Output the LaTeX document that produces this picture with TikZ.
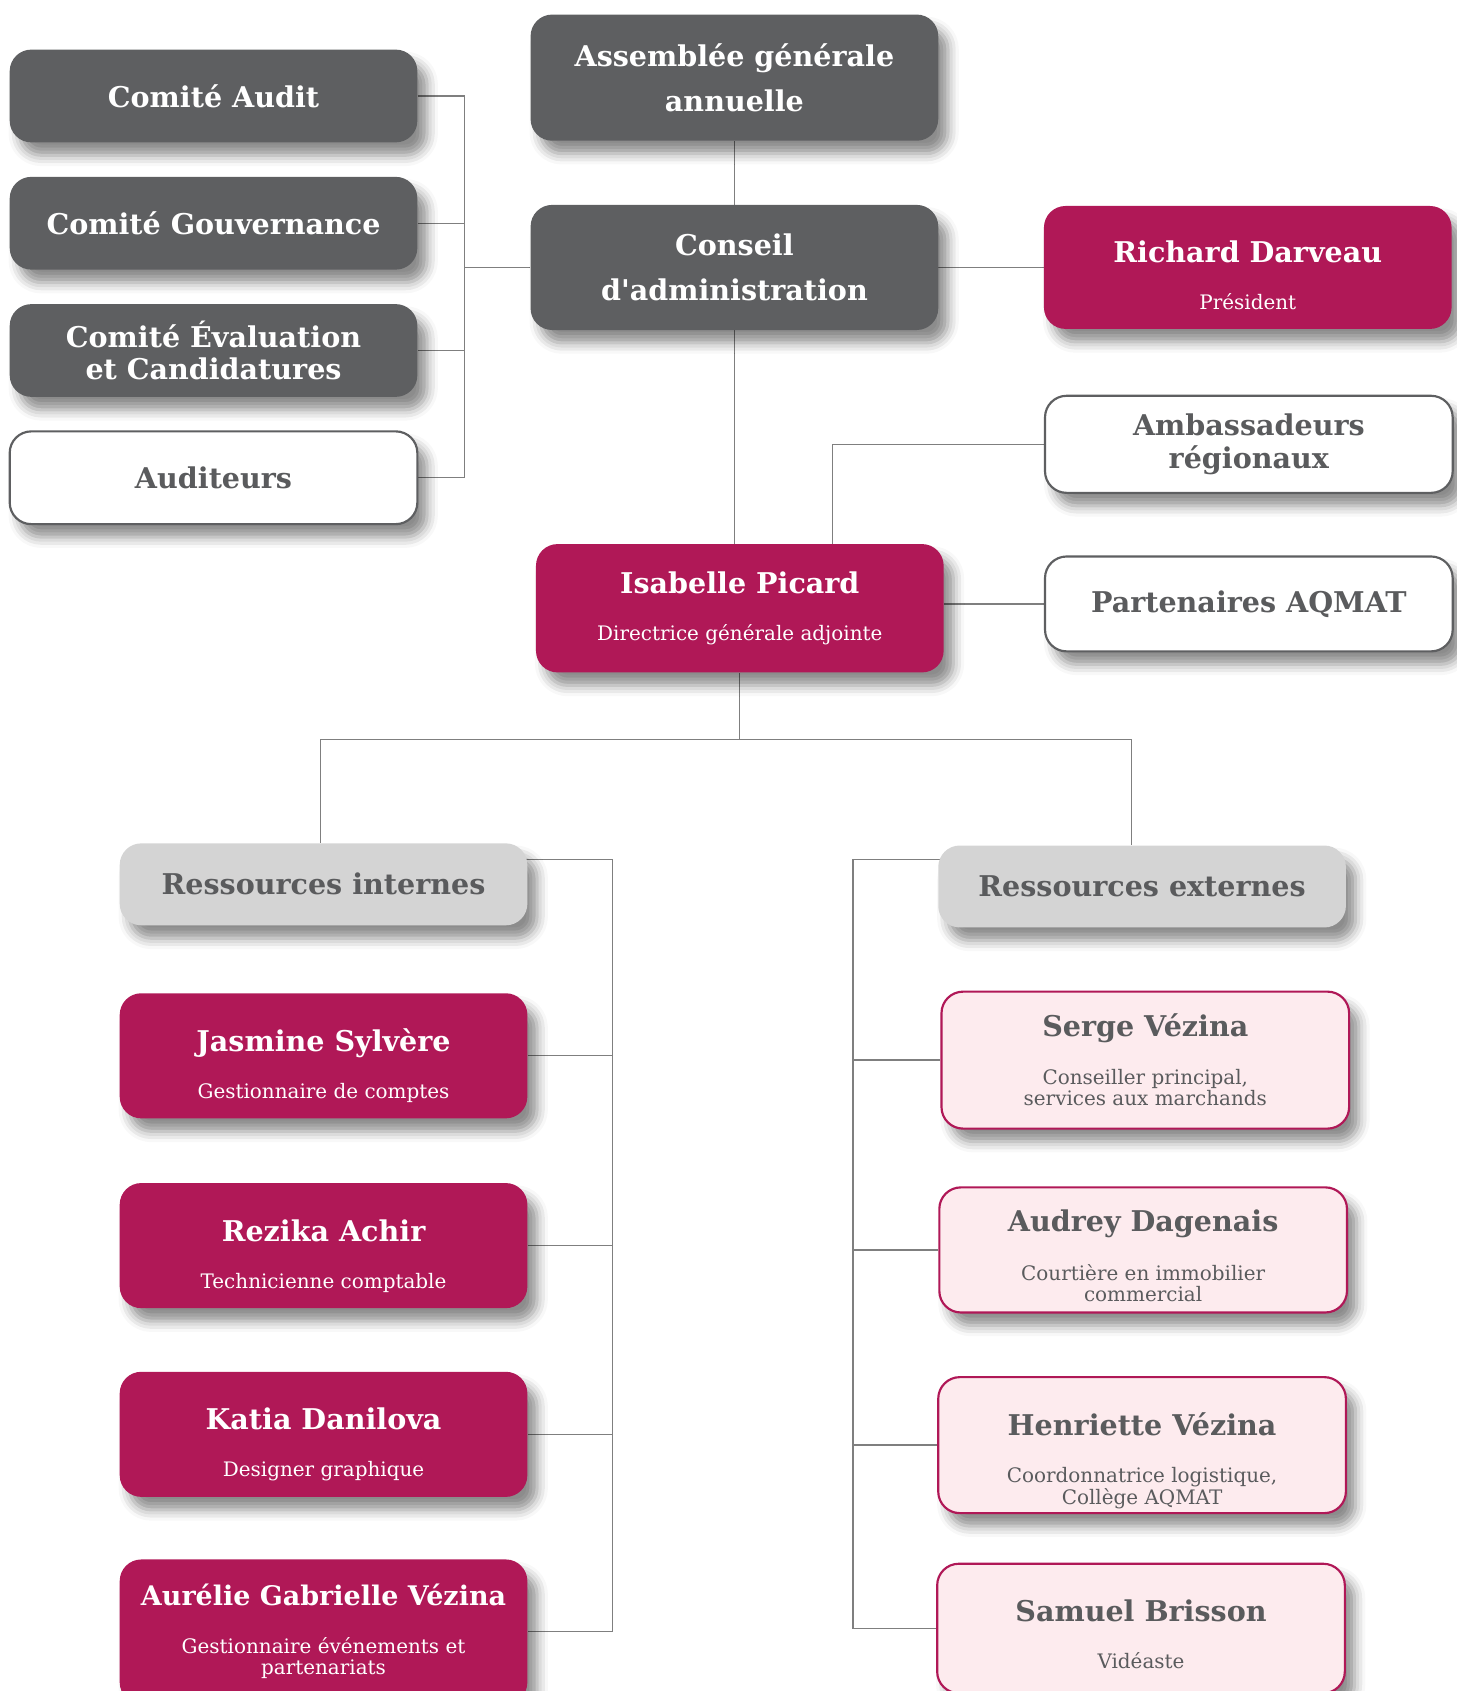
\documentclass[tikz,border=0pt]{standalone}
\usepackage{fontspec}
\setmainfont{DejaVu Serif}
\usetikzlibrary{positioning,shadows.blur,backgrounds}

\definecolor{aqgrey}{HTML}{5E5F61}
\definecolor{aqwine}{HTML}{B01857}
\definecolor{aqpink}{HTML}{FDEBEE}
\definecolor{aqlight}{HTML}{D4D4D4}
\definecolor{aqtext}{HTML}{5A5B5D}
\definecolor{aqline}{HTML}{7F7F7F}

% name + role inside one box (optional strut pushes the text down)
\newcommand{\who}[3][0pt]{{\fontsize{26.5}{30}\selectfont\bfseries\rule{0pt}{#1}#2}\\[24pt]#3}

\begin{document}
\begin{tikzpicture}[x=1pt, y=1pt, node distance=118pt,
    box/.style={rounded corners=20pt, minimum width=378pt, minimum height=86pt, align=center, inner sep=4pt,
      blur shadow={shadow xshift=9pt, shadow yshift=-12pt, shadow blur radius=10pt, shadow opacity=45}},
    head/.style={box, fill=aqgrey, text=white, font=\fontsize{26.5}{30}\selectfont\bfseries},
    open/.style={box, fill=white, draw=aqgrey, line width=2pt, text=aqtext, font=\fontsize{26.5}{30}\selectfont\bfseries},
    lead/.style={box, minimum height=116pt, fill=aqwine, text=white, font=\fontsize{18.5}{20}\selectfont},
    extern/.style={box, minimum height=122pt, fill=aqpink, draw=aqwine, line width=2pt, text=aqtext, font=\fontsize{18.5}{20}\selectfont},
    group/.style={box, minimum height=76pt, fill=aqlight, text=aqtext, font=\fontsize{26.5}{30}\selectfont\bfseries},
    link/.style={draw=aqline, line width=1.2pt}]
  \useasboundingbox (0,0) rectangle (1351,-1568);

  % board
  \node[head, minimum height=117pt] (aga) at (681,-72) {Assemblée générale\\[12pt]annuelle};
  \node[head, minimum height=116pt, below of=aga, node distance=176pt] (ca) {Conseil\\[12pt]d\textquotesingle administration};
  \node[lead, minimum height=114pt] (darveau) at (1157,-248) {\who[35pt]{Richard Darveau}{Président}};
  \node[open, minimum height=90pt] (amb) at (1158,-412) {Ambassadeurs\\régionaux};
  \node[open, minimum height=88pt] (part) at (1158,-560) {Partenaires AQMAT};
  \node[lead, minimum height=119pt] (picard) at (686,-564) {\who{Isabelle Picard}{Directrice générale adjointe}};

  % committees
  \node[head] (audit) at (198,-89) {Comité Audit};
  \node[head, below of=audit] (gouv) {Comité Gouvernance};
  \node[head, below of=gouv] (eval) {Comité Évaluation\\et Candidatures};
  \node[open, below of=eval] (auditeurs) {Auditeurs};

  % internal staff
  \node[group] (rint) at (300,-820) {Ressources internes};
  \node[lead] (sylvere) at (300,-979) {\who[39pt]{Jasmine Sylvère}{Gestionnaire de comptes}};
  \node[lead, below of=sylvere, node distance=176pt] (achir) {\who[40pt]{Rezika Achir}{Technicienne comptable}};
  \node[lead, below of=achir, node distance=175pt] (danilova) {\who[39pt]{Katia Danilova}{Designer graphique}};
  \node[lead, minimum height=134pt, below of=danilova, node distance=183pt] (agv) {{\fontsize{25}{30}\selectfont\bfseries Aurélie Gabrielle Vézina}\\[24pt]Gestionnaire événements et\\partenariats};

  % external staff
  \node[group] (rext) at (1059,-822) {Ressources externes};
  \node[extern, minimum height=127pt] (svezina) at (1062,-983) {\who{Serge Vézina}{Conseiller principal,\\services aux marchands}};
  \node[extern, minimum height=116pt] (dagenais) at (1060,-1159) {\who[31pt]{Audrey Dagenais}{Courtière en immobilier\\commercial}};
  \node[extern, minimum height=126pt] (hvezina) at (1059,-1340) {\who[50pt]{Henriette Vézina}{Coordonnatrice logistique,\\Collège AQMAT}};
  \node[extern, minimum height=120pt] (brisson) at (1058,-1510) {\who[31pt]{Samuel Brisson}{Vidéaste}};

  \begin{scope}[on background layer]
    \coordinate (lbus) at (431,-248);
    \draw[link] (audit.east) -| (lbus);
    \draw[link] (auditeurs.east) -| (lbus);
    \draw[link] (gouv.east) -- (gouv.east -| lbus);
    \draw[link] (eval.east) -- (eval.east -| lbus);
    \draw[link] (lbus) -- (ca.west);

    \draw[link] (aga) -- (ca);
    \draw[link] (ca.east) -- (darveau.west);
    \draw[link] (ca.south) -- (ca.south |- picard.north);
    \draw[link] ([xshift=86pt]picard.north) |- (amb.west);
    \draw[link] (part.west) -- (part.west -| picard.east);

    \coordinate (split) at ([yshift=-62pt]picard.south);
    \draw[link] (picard.south) -- (split);
    \draw[link] (split) -| ([xshift=-3pt]rint.north);
    \draw[link] (split) -| ([xshift=-10pt]rext.north);

    \coordinate (ibus) at (568,-797);
    \draw[link] (rint.center |- ibus) -- (ibus) |- (agv.east);
    \foreach \n in {sylvere, achir, danilova}
      \draw[link] (\n.east) -- (\n.east -| ibus);

    \coordinate (ebus) at (791,-797);
    \draw[link] (rext.center |- ebus) -- (ebus) |- (brisson.west);
    \foreach \n in {svezina, dagenais, hvezina}
      \draw[link] (\n.west) -- (\n.west -| ebus);
  \end{scope}
\end{tikzpicture}
\end{document}
